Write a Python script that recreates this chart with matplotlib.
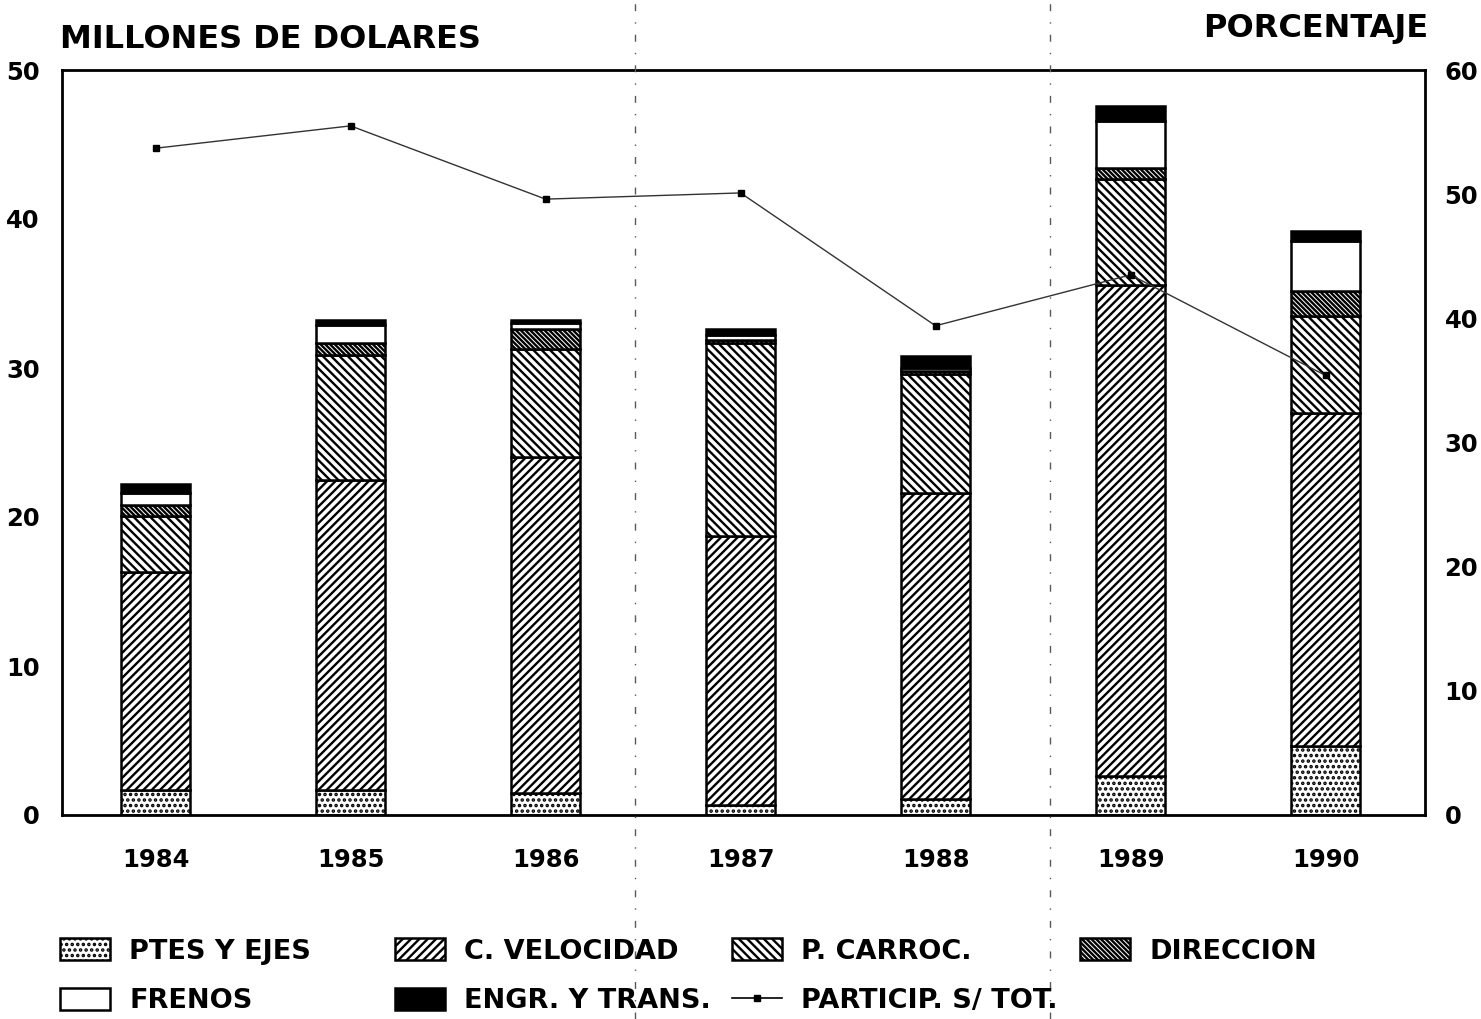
'''
Gráfico de barras apiladas - importaciones de autopartes 1984-1990
Barras: millones de dólares por rubro (eje izq.)
Línea: participación sobre el total (eje der., porcentaje)
'''
#---------------------Librerias y modulos requeridos-------------------------
import matplotlib
matplotlib.use("Agg")
import matplotlib.pyplot as plt
from matplotlib.lines import Line2D
from matplotlib.patches import Patch

#------------------------------Datos-----------------------------------------
anios = ["1984", "1985", "1986", "1987", "1988", "1989", "1990"]

# millones de dólares por rubro
ptes_ejes   = [1.7, 1.7, 1.5, 0.7, 1.1, 2.6, 4.6]
c_velocidad = [14.6, 20.8, 22.5, 18.0, 20.5, 33.0, 22.4]
p_carroc    = [3.8, 8.4, 7.3, 13.0, 8.0, 7.1, 6.5]
direccion   = [0.7, 0.8, 1.3, 0.2, 0.2, 0.7, 1.7]
frenos      = [0.8, 1.2, 0.4, 0.3, 0.2, 3.2, 3.3]
engr_trans  = [0.6, 0.35, 0.2, 0.4, 0.8, 1.0, 0.7]

# participación sobre el total (%)
particip = [53.7, 55.5, 49.6, 50.1, 39.4, 43.5, 35.4]

etiquetas = ["PTES Y EJES", "C. VELOCIDAD", "P. CARROC.", "DIRECCION",
             "FRENOS", "ENGR. Y TRANS.", "PARTICIP. S/ TOT."]

#--------------------------Estilo--------------------------------------------
plt.rcParams["font.family"] = ["DejaVu Sans"]
plt.rcParams["font.weight"] = "bold"
plt.rcParams["hatch.linewidth"] = 1.7
plt.rcParams["hatch.color"] = "black"

# (relleno, trama) por rubro
estilos = [("white", "..."), ("white", "////"), ("white", "\\\\\\\\"),
           ("white", "\\\\\\\\\\\\\\"), ("white", ""), ("black", "")]

#--------------------------Figura--------------------------------------------
fig = plt.figure(figsize=(14.81, 10.19), dpi=100)
ax = fig.add_axes([62/1481, 1 - 815/1019, (1425-62)/1481, (815-70)/1019])

x = list(range(len(anios)))
series = [ptes_ejes, c_velocidad, p_carroc, direccion, frenos, engr_trans]
base = [0.0] * len(anios)
for serie, (color, trama) in zip(series, estilos):
    ax.bar(x, serie, width=0.35, bottom=base, color=color, hatch=trama,
           edgecolor="black", linewidth=1.8)
    base = [a + s for a, s in zip(base, serie)]

ax.set_xlim(-0.48, 6.51)
ax.set_ylim(0, 50)
ax.set_yticks([0, 10, 20, 30, 40, 50])
ax.set_xticks(x)
ax.set_xticklabels(anios)
ax.tick_params(axis="both", length=0, labelsize=17.5)
ax.tick_params(axis="y", pad=16)
ax.tick_params(axis="x", pad=24)
for s in ax.spines.values():
    s.set_linewidth(2)

# eje derecho - porcentaje
ax2 = ax.twinx()
ax2.set_ylim(0, 60)
ax2.set_yticks([0, 10, 20, 30, 40, 50, 60])
ax2.tick_params(axis="y", length=0, labelsize=17.5, pad=14)
ax2.plot(x, particip, color="0.2", linewidth=1.0, marker="s",
         markersize=5, markerfacecolor="black", markeredgecolor="black")

fig.text(60/1481, 1 - 40/1019, "MILLONES DE DOLARES", fontsize=23,
         ha="left", va="center")
fig.text(1428/1481, 1 - 28/1019, "PORCENTAJE", fontsize=23,
         ha="right", va="center")

#--------------------------Leyenda (por columnas)----------------------------
def parche(i):
    color, trama = estilos[i]
    return Patch(facecolor=color, hatch=trama, edgecolor="black", linewidth=1.8)

columnas = [
    ([parche(0), parche(4)], [etiquetas[0], etiquetas[4]], 60),
    ([parche(1), parche(5)], [etiquetas[1], etiquetas[5]], 395),
    ([parche(2), Line2D([], [], color="black", lw=1.2, marker="s", markersize=5)],
     [etiquetas[2], etiquetas[6]], 732),
    ([parche(3)], [etiquetas[3]], 1080),
]
for manijas, textos, xpix in columnas:
    fig.legend(manijas, textos, loc="upper left",
               bbox_to_anchor=(xpix/1481, 1 - 938/1019),
               frameon=False, fontsize=19.5, borderpad=0, borderaxespad=0,
               handlelength=1.85, handleheight=0.9, handletextpad=0.7,
               labelspacing=0.85)

# marcas de plegado del original
for xf in [635, 1050]:
    fig.add_artist(Line2D([xf/1481, xf/1481], [0, 1], transform=fig.transFigure,
                          color="0.35", lw=1, ls=(0, (5, 8, 1, 8))))

fig.savefig("out.png", dpi=100)
